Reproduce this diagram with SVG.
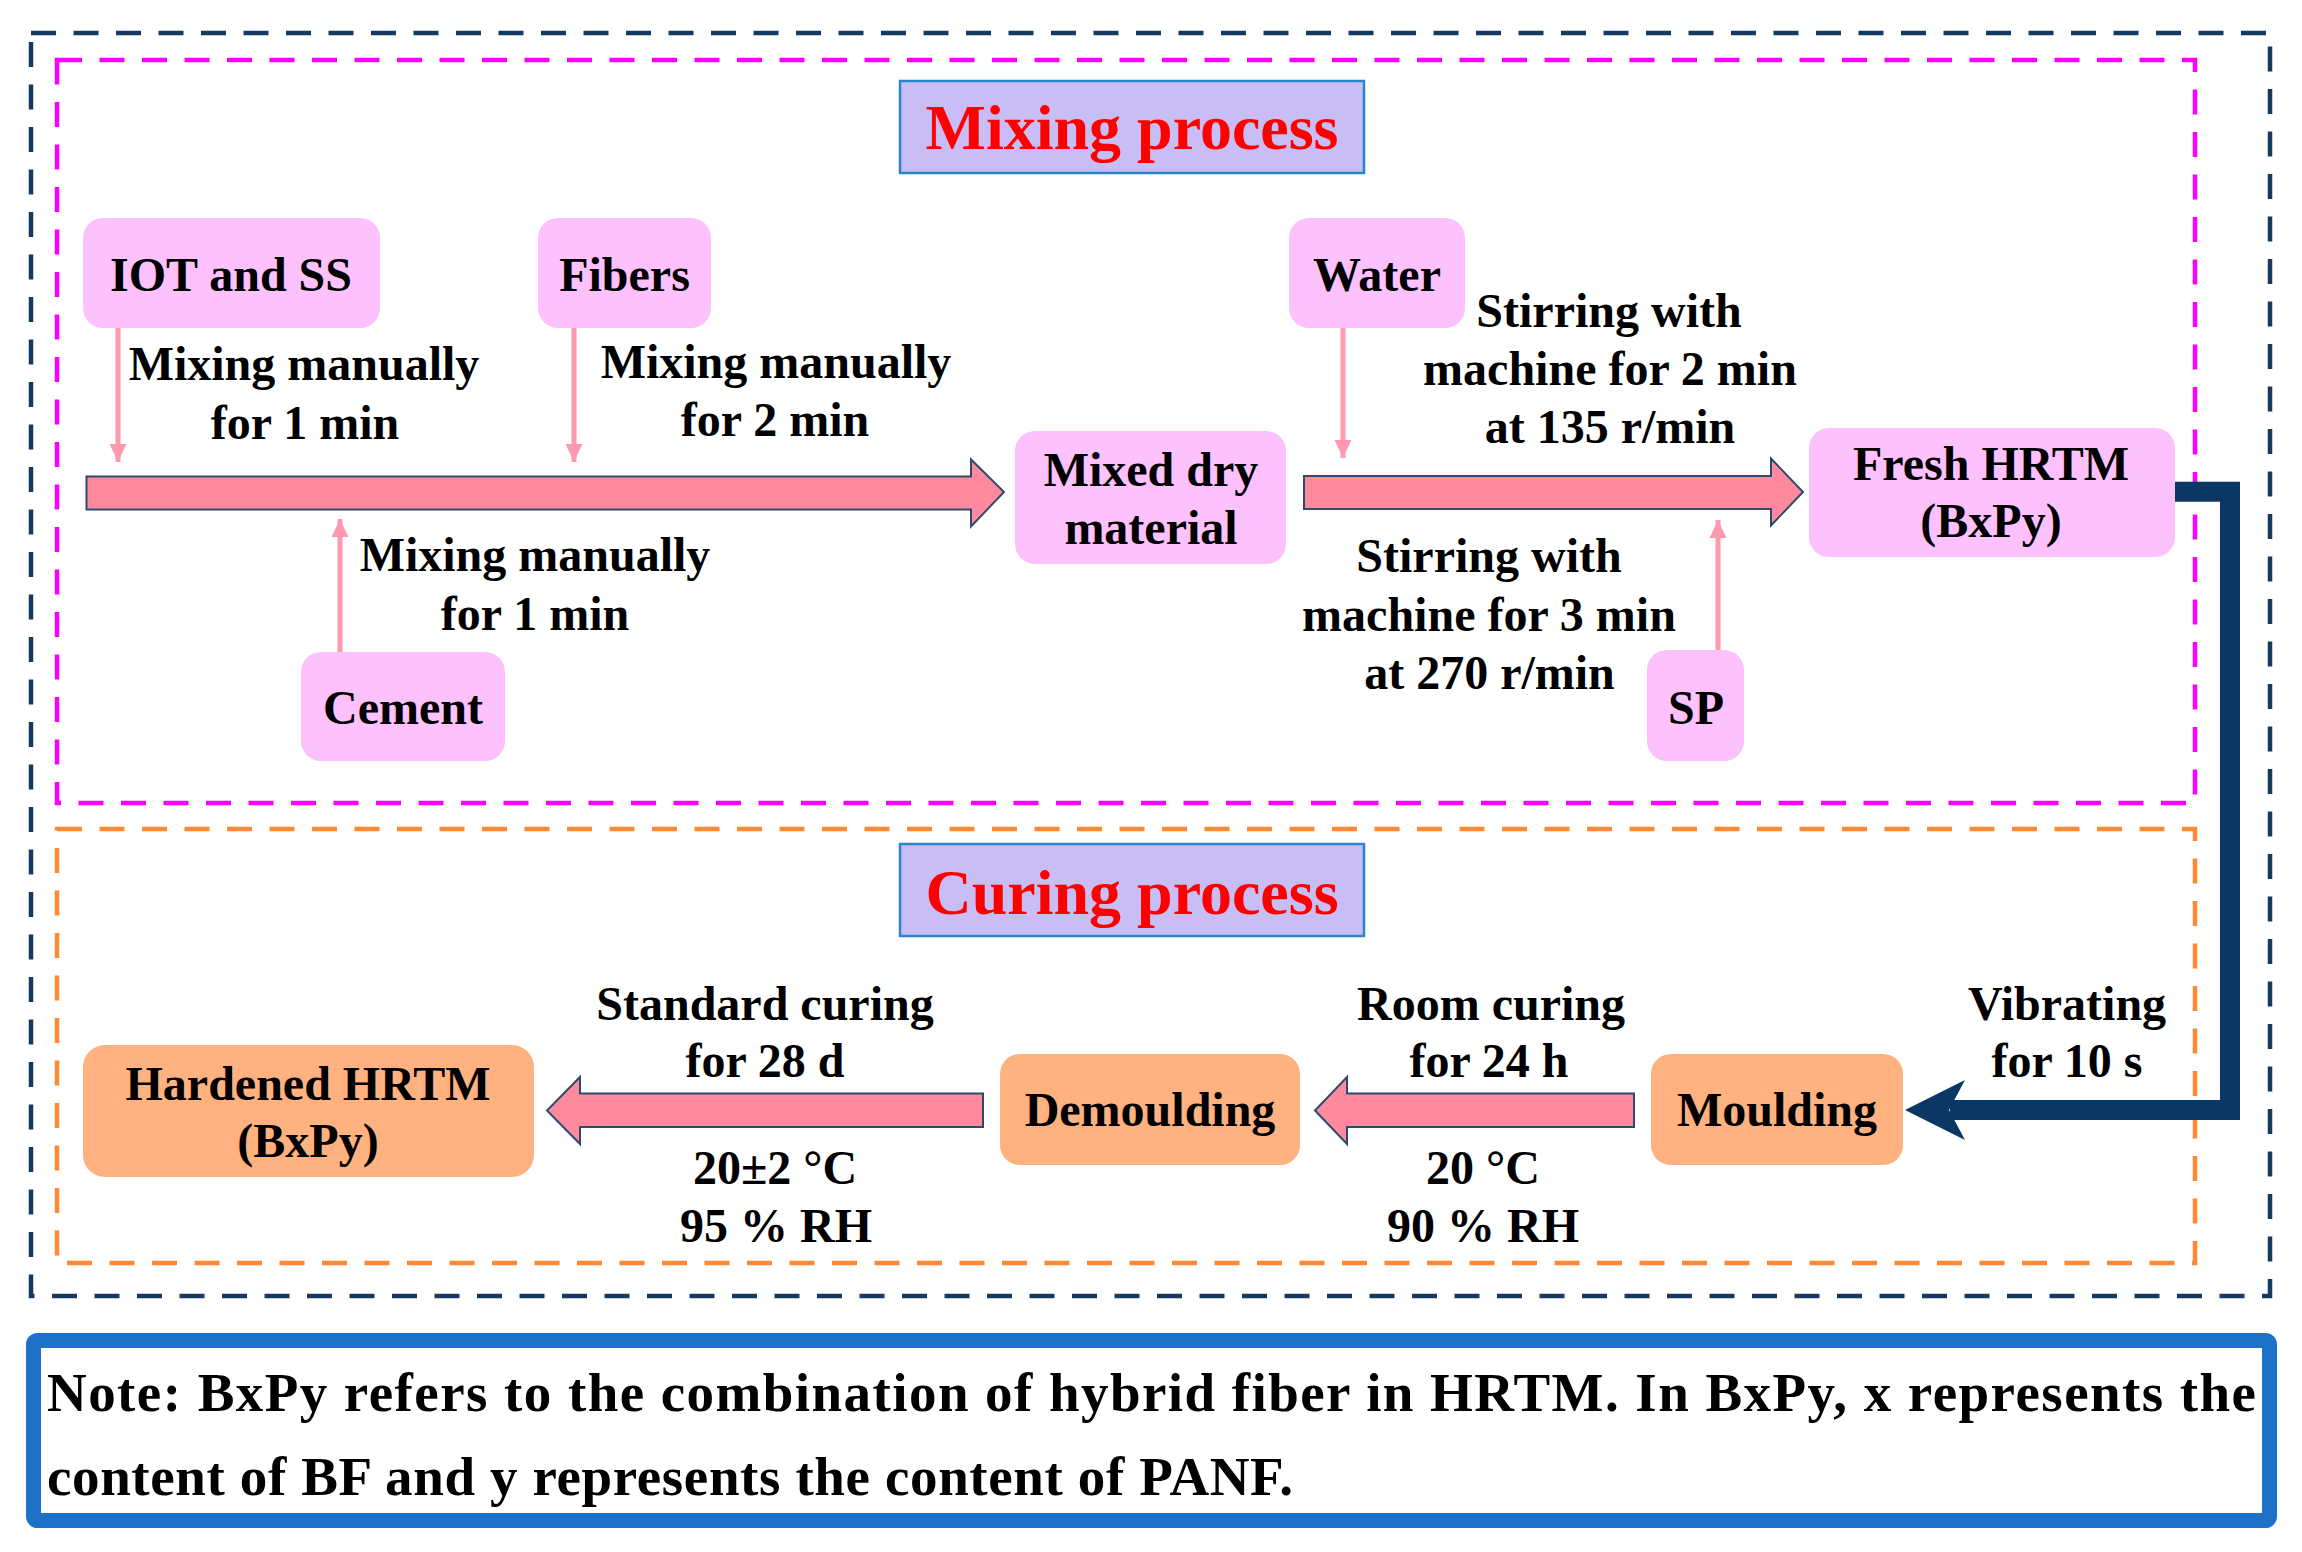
<svg xmlns="http://www.w3.org/2000/svg" width="2302" height="1552" viewBox="0 0 2302 1552">
<style>
text{font-family:"Liberation Serif","Times New Roman",serif;font-weight:bold;fill:#000}
.lbl{font-size:48px;text-anchor:middle}
.title{font-size:64px;text-anchor:middle;fill:#ff0000}
.note{font-size:55px}
.pink{fill:#fdc1fd}
.orange{fill:#ffb17f}
.tbox{fill:#c8bdf4;stroke:#2a86cc;stroke-width:2.5}
.blk{fill:#ff8a9e;stroke:#2d4a6e;stroke-width:2;stroke-linejoin:miter}
.thin{stroke:#ff9aae;stroke-width:5;fill:none}
.dash{fill:none;stroke-width:4.5;stroke-dasharray:25 17.5}
</style>
<defs>
<marker id="ah" markerUnits="userSpaceOnUse" markerWidth="20" markerHeight="20" viewBox="0 0 20 20" refX="18" refY="10" orient="auto">
<path d="M0,1.5 L18,10 L0,18.5 Z" fill="#ff9aae"/>
</marker>
</defs>
<rect width="2302" height="1552" fill="#fff"/>

<!-- frames -->
<g id="frames">
<rect class="dash" x="31" y="33" width="2239" height="1263" stroke="#163a5f"/>
<rect class="dash" x="57" y="60" width="2138" height="743" stroke="#ff00ff"/>
<rect class="dash" x="57" y="829" width="2138" height="434" stroke="#ff8833"/>
</g>

<g id="title-mixing">
<rect class="tbox" x="900" y="81" width="464" height="92"/>
<text class="title" x="1132" y="149">Mixing process</text>
</g>
<g id="title-curing">
<rect class="tbox" x="900" y="844" width="464" height="92"/>
<text class="title" x="1132" y="914">Curing process</text>
</g>

<!-- connectors -->
<g id="connectors">
<path class="blk" d="M86.5,476.5 H971 V459.5 L1004,492 L971,526.5 V509.5 H86.5 Z"/>
<path class="blk" d="M1304,476 H1771 V458.5 L1803,492 L1771,525.5 V509 H1304 Z"/>
<path class="blk" d="M983,1093.5 H580 V1077 L547,1110.5 L580,1144 V1127 H983 Z"/>
<path class="blk" d="M1634,1093.5 H1347 V1077 L1315,1110.5 L1347,1144 V1127 H1634 Z"/>
<line class="thin" x1="118" y1="328" x2="118" y2="462" marker-end="url(#ah)"/>
<line class="thin" x1="574" y1="328" x2="574" y2="462" marker-end="url(#ah)"/>
<line class="thin" x1="1343" y1="328" x2="1343" y2="458" marker-end="url(#ah)"/>
<line class="thin" x1="340" y1="652" x2="340" y2="519" marker-end="url(#ah)"/>
<line class="thin" x1="1718" y1="650" x2="1718" y2="520" marker-end="url(#ah)"/>
<path d="M2175,491.7 H2230 V1110 H1950" fill="none" stroke="#0a3764" stroke-width="20" stroke-linejoin="miter"/>
<path d="M1905,1110 L1965,1080 L1949,1110 L1965,1140 Z" fill="#0a3764"/>
</g>

<!-- nodes -->
<g id="node-iot"><rect class="pink" x="83" y="218" width="297" height="110" rx="20"/><text class="lbl" x="231" y="291">IOT and SS</text></g>
<g id="node-fibers"><rect class="pink" x="538" y="218" width="173" height="110" rx="20"/><text class="lbl" x="624.5" y="291">Fibers</text></g>
<g id="node-water"><rect class="pink" x="1289" y="218" width="176" height="110" rx="20"/><text class="lbl" x="1377" y="291">Water</text></g>
<g id="node-mixed"><rect class="pink" x="1015" y="431" width="271" height="133" rx="20"/><text class="lbl" x="1151" y="486">Mixed dry</text><text class="lbl" x="1151" y="544">material</text></g>
<g id="node-fresh"><rect class="pink" x="1809" y="428" width="366" height="129" rx="20"/><text class="lbl" x="1991" y="480">Fresh HRTM</text><text class="lbl" x="1991" y="537">(BxPy)</text></g>
<g id="node-cement"><rect class="pink" x="301" y="652" width="204" height="109" rx="20"/><text class="lbl" x="403" y="724">Cement</text></g>
<g id="node-sp"><rect class="pink" x="1647" y="650" width="97" height="111" rx="20"/><text class="lbl" x="1696" y="724">SP</text></g>
<g id="node-hardened"><rect class="orange" x="83" y="1045" width="451" height="132" rx="22"/><text class="lbl" x="308" y="1100">Hardened HRTM</text><text class="lbl" x="308" y="1157">(BxPy)</text></g>
<g id="node-demoulding"><rect class="orange" x="1000" y="1054" width="300" height="111" rx="20"/><text class="lbl" x="1150" y="1126">Demoulding</text></g>
<g id="node-moulding"><rect class="orange" x="1651" y="1054" width="252" height="111" rx="20"/><text class="lbl" x="1777" y="1126">Moulding</text></g>

<!-- labels -->
<g id="labels">
<text class="lbl" x="304" y="380">Mixing manually</text>
<text class="lbl" x="305" y="439">for 1 min</text>
<text class="lbl" x="776" y="377.5">Mixing manually</text>
<text class="lbl" x="775" y="436">for 2 min</text>
<text class="lbl" x="535" y="571">Mixing manually</text>
<text class="lbl" x="535" y="630">for 1 min</text>
<text class="lbl" x="1609" y="326.5">Stirring with</text>
<text class="lbl" x="1610" y="385">machine for 2 min</text>
<text class="lbl" x="1610" y="443">at 135 r/min</text>
<text class="lbl" x="1489" y="572">Stirring with</text>
<text class="lbl" x="1489" y="631">machine for 3 min</text>
<text class="lbl" x="1489.5" y="689">at 270 r/min</text>
<text class="lbl" x="765" y="1020">Standard curing</text>
<text class="lbl" x="765" y="1077">for 28 d</text>
<text class="lbl" x="775" y="1184">20±2 °C</text>
<text class="lbl" x="776" y="1242">95 % RH</text>
<text class="lbl" x="1491" y="1020">Room curing</text>
<text class="lbl" x="1489" y="1077">for 24 h</text>
<text class="lbl" x="1483" y="1184">20 °C</text>
<text class="lbl" x="1483" y="1242">90 % RH</text>
<text class="lbl" x="2067" y="1020">Vibrating</text>
<text class="lbl" x="2067" y="1077">for 10 s</text>
</g>

<g id="note">
<rect x="33.5" y="1340.5" width="2236" height="180" rx="4" fill="none" stroke="#1d72c8" stroke-width="15"/>
<text class="note" x="47" y="1411" textLength="2209" lengthAdjust="spacing">Note: BxPy refers to the combination of hybrid fiber in HRTM. In BxPy, x represents the</text>
<text class="note" x="47" y="1495" textLength="1246" lengthAdjust="spacing">content of BF and y represents the content of PANF.</text>
</g>
</svg>
